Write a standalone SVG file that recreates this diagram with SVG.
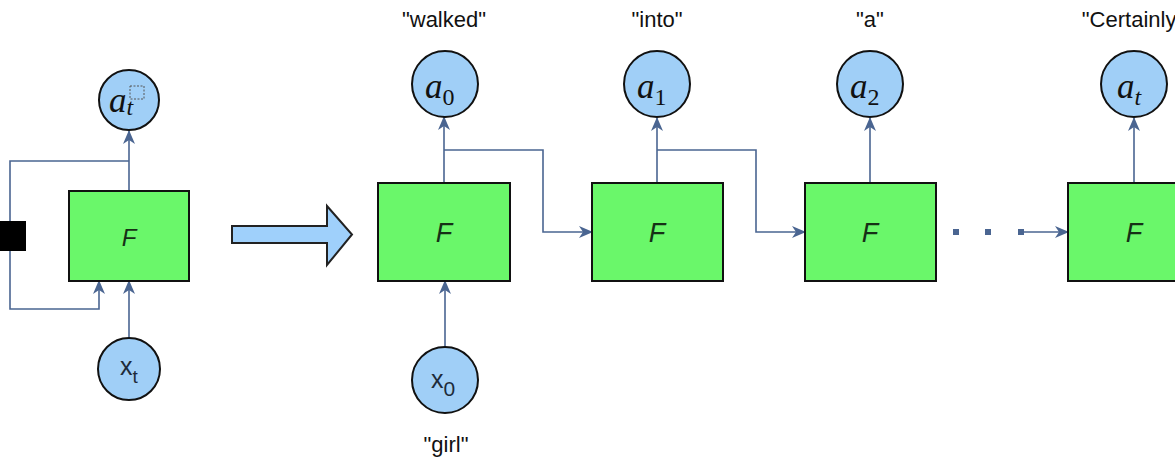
<svg xmlns="http://www.w3.org/2000/svg" width="1175" height="459" viewBox="0 0 1175 459">
  <defs>
    <marker id="arr" viewBox="0 0 14 12" refX="13" refY="6" markerWidth="14" markerHeight="12" markerUnits="userSpaceOnUse" orient="auto">
      <path d="M0,0 L14,6 L0,12 L4,6 Z" fill="#4a6591"/>
    </marker>
    <style>
      .box { fill: #6af76a; stroke: #111; stroke-width: 2; }
      .node { fill: #a0cff7; stroke: #111; stroke-width: 2; }
      .wire { fill: none; stroke: #4a6591; stroke-width: 1.6; }
      .f { font-family: "Liberation Sans", Arial, sans-serif; font-style: italic; fill: #163016; text-anchor: middle; }
      .m { font-family: "Liberation Serif", "Times New Roman", serif; font-style: italic; font-size: 35px; fill: #111; }
      .sub { font-family: "Liberation Serif", "Times New Roman", serif; font-style: normal; font-size: 24px; }
      .sub.it { font-style: italic; }
      .x { font-family: "Liberation Sans", Arial, sans-serif; font-size: 25px; fill: #1d2b3a; }
      .lbl { font-family: "Liberation Sans", Arial, sans-serif; font-size: 22px; fill: #111; text-anchor: middle; }
      .dot { fill: #4a6591; }
    </style>
  </defs>
  <rect width="1175" height="459" fill="#fff"/>

  <!-- connectors -->
  <g id="connectors">
    <!-- folded recurrent cell -->
    <line class="wire" x1="129" y1="191" x2="129" y2="131" marker-end="url(#arr)"/>
    <polyline class="wire" points="129,161 10,161 10,309 99,309 99,281" marker-end="url(#arr)"/>
    <line class="wire" x1="129" y1="338" x2="129" y2="281" marker-end="url(#arr)"/>
    <!-- unrolled chain -->
    <line class="wire" x1="444" y1="183" x2="444" y2="117" marker-end="url(#arr)"/>
    <polyline class="wire" points="444,150 543,150 543,232 592,232" marker-end="url(#arr)"/>
    <line class="wire" x1="445" y1="347" x2="445" y2="281" marker-end="url(#arr)"/>
    <line class="wire" x1="657" y1="183" x2="657" y2="118" marker-end="url(#arr)"/>
    <polyline class="wire" points="657,150 756,150 756,232 805,232" marker-end="url(#arr)"/>
    <line class="wire" x1="870" y1="183" x2="870" y2="118" marker-end="url(#arr)"/>
    <rect class="dot" x="953" y="229" width="6" height="6"/>
    <rect class="dot" x="985" y="229" width="6" height="6"/>
    <rect class="dot" x="1018" y="229" width="6" height="6"/>
    <line class="wire" x1="1021" y1="232" x2="1068" y2="232" marker-end="url(#arr)"/>
    <line class="wire" x1="1134" y1="183" x2="1134" y2="118" marker-end="url(#arr)"/>
  </g>

  <!-- delay block on the feedback loop -->
  <g id="delay">
    <rect x="-2" y="221" width="28" height="30" fill="#000"/>
  </g>

  <!-- folded cell -->
  <g id="cell-folded">
    <rect class="box" x="69" y="191" width="120" height="90"/>
    <text class="f" x="129" y="246" font-size="24">F</text>
  </g>
  <g id="out-folded">
    <circle class="node" cx="129" cy="100" r="30"/>
    <text class="m" x="109" y="112" font-size="32">a<tspan class="sub it" style="font-size:24px" dy="3">t</tspan></text>
    <rect x="130" y="86" width="14" height="13" fill="none" stroke="#555" stroke-width="1" stroke-dasharray="2,1.5"/>
  </g>
  <g id="in-folded">
    <circle class="node" cx="129" cy="369" r="31"/>
    <text class="x" x="120" y="375" font-size="23">x<tspan font-size="19" dy="8">t</tspan></text>
  </g>

  <!-- unroll arrow -->
  <g id="unroll">
    <polygon points="232,226 327,226 327,206 352,234.5 327,265 327,243 232,243" fill="#9fd0fb" stroke="#222" stroke-width="2" stroke-linejoin="miter"/>
  </g>

  <!-- unrolled cells -->
  <g id="cell-0">
    <rect class="box" x="378" y="183" width="132" height="98"/>
    <text class="f" x="444" y="242" font-size="27">F</text>
  </g>
  <g id="cell-1">
    <rect class="box" x="592" y="183" width="131" height="98"/>
    <text class="f" x="657" y="242" font-size="27">F</text>
  </g>
  <g id="cell-2">
    <rect class="box" x="805" y="183" width="131" height="98"/>
    <text class="f" x="870" y="242" font-size="27">F</text>
  </g>
  <g id="cell-t">
    <rect class="box" x="1068" y="183" width="132" height="98"/>
    <text class="f" x="1134" y="242" font-size="27">F</text>
  </g>

  <!-- outputs -->
  <g id="out-0">
    <text class="lbl" x="444" y="27">"walked"</text>
    <circle class="node" cx="445" cy="84" r="33"/>
    <text class="m" x="425" y="98">a<tspan class="sub" dy="7">0</tspan></text>
  </g>
  <g id="out-1">
    <text class="lbl" x="657" y="27">"into"</text>
    <circle class="node" cx="657" cy="84" r="33"/>
    <text class="m" x="637" y="98">a<tspan class="sub" dy="7">1</tspan></text>
  </g>
  <g id="out-2">
    <text class="lbl" x="870" y="27">"a"</text>
    <circle class="node" cx="870" cy="84" r="33"/>
    <text class="m" x="850" y="98">a<tspan class="sub" dy="7">2</tspan></text>
  </g>
  <g id="out-t">
    <text class="lbl" x="1133" y="27">"Certainly"</text>
    <circle class="node" cx="1134" cy="84" r="33"/>
    <text class="m" x="1117" y="98">a<tspan class="sub it" dy="7">t</tspan></text>
  </g>

  <!-- input -->
  <g id="in-0">
    <circle class="node" cx="445" cy="380" r="33"/>
    <text class="x" x="431" y="388">x<tspan font-size="21" dy="8">0</tspan></text>
    <text class="lbl" x="446" y="452">"girl"</text>
  </g>
</svg>
